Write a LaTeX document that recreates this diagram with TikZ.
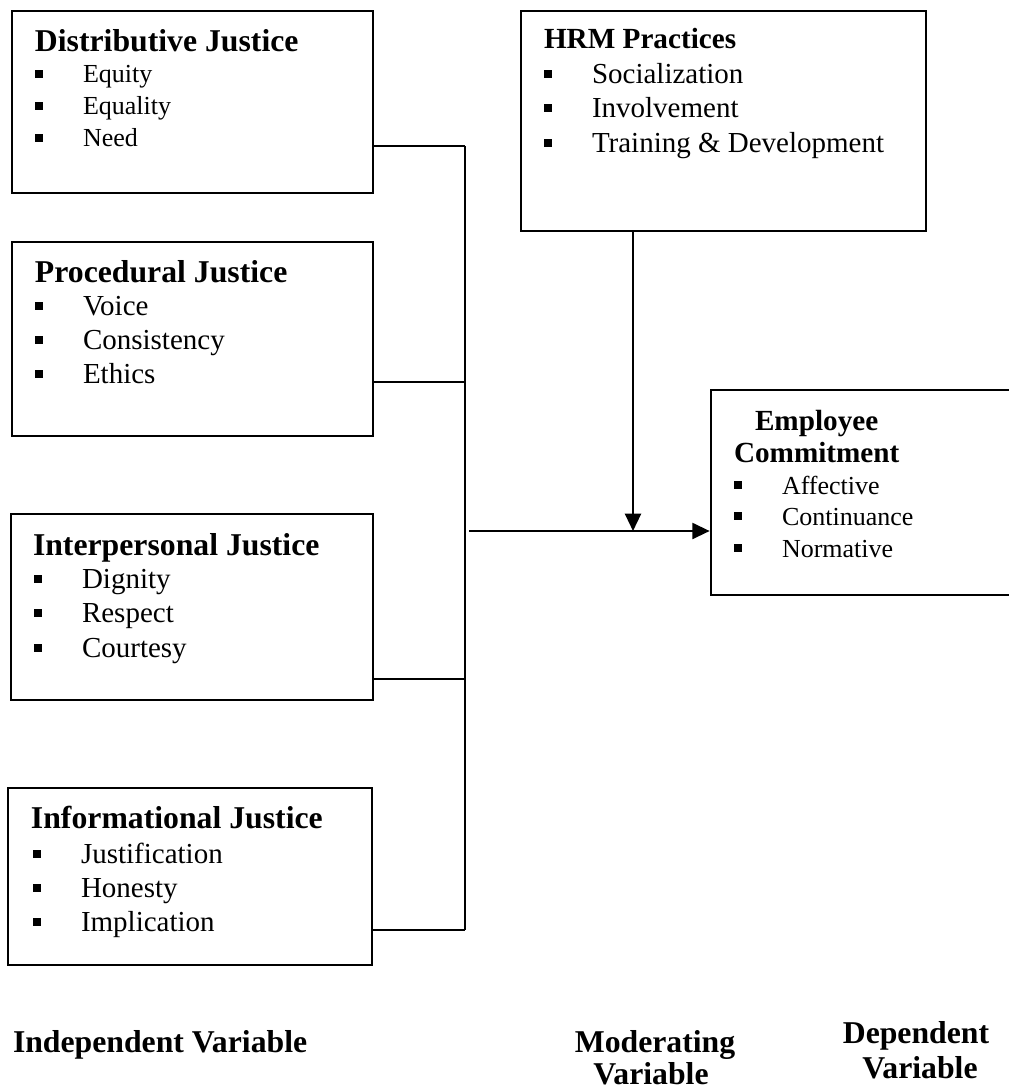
\documentclass[tikz,border=0pt]{standalone}
\usepackage{fontspec}
\setmainfont{Liberation Serif}
\usetikzlibrary{arrows.meta,fit}

\tikzset{every picture/.style={line width=1.5pt}}
\tikzset{
  varbox/.style={draw, inner sep=0pt, line width=2pt},
  ttl/.style={anchor=base west, inner sep=0pt, font=\fontsize{23.8}{28}\selectfont\bfseries},
  ttlsm/.style={anchor=base west, inner sep=0pt, font=\fontsize{21.9}{26}\selectfont\bfseries},
  itm/.style={anchor=base west, inner sep=0pt, font=\fontsize{21.75}{26}\selectfont},
  itmsm/.style={anchor=base west, inner sep=0pt, font=\fontsize{19.5}{24}\selectfont},
  lbl/.style={anchor=base, inner sep=0pt, font=\fontsize{23.8}{28}\selectfont\bfseries},
  link/.style={line width=1.7pt},
  arr/.style={line width=1.7pt, -{Triangle[length=13pt,width=12pt]}},
}
\newcommand{\bul}{\makebox[36pt][l]{\raisebox{3.5pt}{\rule{6pt}{6pt}}}}

\begin{document}
\begin{tikzpicture}[x=0.75pt,y=0.75pt,yscale=-1,xscale=1]
\useasboundingbox (0,0) rectangle (1009,1090);
\clip (0,0) rectangle (1009,1090);

% Boxes
\node [varbox, fit={(12,11) (373,193)}] (dist) {};
\node [varbox, fit={(12,242) (373,436)}] (proc) {};
\node [varbox, fit={(11,514) (373,700)}] (inter) {};
\node [varbox, fit={(8,788) (372,965)}] (info) {};
\node [varbox, fit={(521,11) (926,231)}] (hrm) {};
\node [varbox, fit={(711,390) (1030,595)}] (emp) {};

% Distributive Justice
\node [ttl] (distT) at (34,51.7) {Distributive Justice};
\node [itmsm] (dist1) at (34,82.5) {\bul Equity};
\node [itmsm] (dist2) at (34,114.5) {\bul Equality};
\node [itmsm] (dist3) at (34,146.5) {\bul Need};

% Procedural Justice
\node [ttl] (procT) at (34,282) {Procedural Justice};
\node [itm] (proc1) at (34,315) {\bul Voice};
\node [itm] (proc2) at (34,349) {\bul Consistency};
\node [itm] (proc3) at (34,383) {\bul Ethics};

% Interpersonal Justice
\node [ttl] (interT) at (32,555) {Interpersonal Justice};
\node [itm] (inter1) at (33,588) {\bul Dignity};
\node [itm] (inter2) at (33,622) {\bul Respect};
\node [itm] (inter3) at (33,657) {\bul Courtesy};

% Informational Justice
\node [ttl] (infoT) at (30,828) {Informational Justice};
\node [itm] (info1) at (32,863) {\bul Justification};
\node [itm] (info2) at (32,897) {\bul Honesty};
\node [itm] (info3) at (32,931) {\bul Implication};

% HRM Practices
\node [ttlsm] (hrmT) at (543,48) {HRM Practices};
\node [itm] (hrm1) at (543,83) {\bul Socialization};
\node [itm] (hrm2) at (543,117) {\bul Involvement};
\node [itm] (hrm3) at (543,152) {\bul Training \& Development};

% Employee Commitment
\node [ttlsm] (empT1) at (754,430) {Employee};
\node [ttlsm] (empT2) at (733,462) {Commitment};
\node [itmsm] (emp1) at (733,494) {\bul Affective};
\node [itmsm] (emp2) at (733,525) {\bul Continuance};
\node [itmsm] (emp3) at (733,557) {\bul Normative};

% Connectors
\coordinate (bus1) at (465,146);
\coordinate (bus2) at (465,382);
\coordinate (bus3) at (465,679);
\coordinate (bus4) at (465,930);
\coordinate (busout) at (469,531);
\coordinate (mid) at (633,531);

\draw [link] (dist.east |- bus1) -- (bus1);
\draw [link] (proc.east |- bus2) -- (bus2);
\draw [link] (inter.east |- bus3) -- (bus3);
\draw [link] (info.east |- bus4) -- (bus4);
\draw [link] (bus1) -- (bus4);
\draw [arr] (busout) -- (emp.west |- busout);
\draw [arr] (hrm.south -| mid) -- (mid);

% Labels
\node [lbl, anchor=base west] (indepL) at (12,1052) {Independent Variable};
\node [lbl] (modL1) at (655,1052) {Moderating};
\node [lbl] (modL2) at (651,1084) {Variable};
\node [lbl] (depL1) at (916,1043) {Dependent};
\node [lbl] (depL2) at (920,1078) {Variable};

\end{tikzpicture}
\end{document}
